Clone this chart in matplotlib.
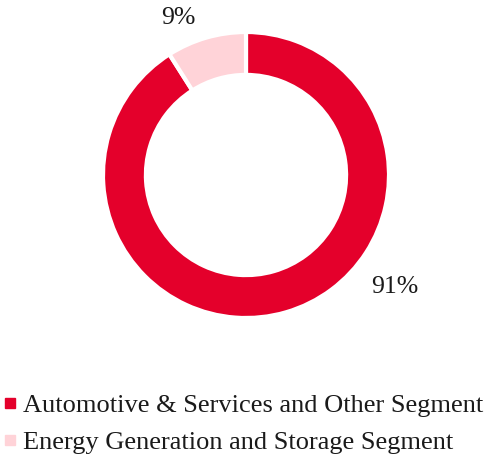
import matplotlib
matplotlib.use("Agg")
import matplotlib.pyplot as plt
from matplotlib.lines import Line2D

categories = ["Automotive & Services and Other Segment", "Energy Generation and Storage Segment"]
values = [91, 9]
colors = ["#E4002B", "#FFD3D8"]
label_pos = [(1.04, -0.78), (-0.475, 1.10)]

plt.rcParams['font.family'] = ['Liberation Serif', 'DejaVu Serif']

W, H = 486, 459
fig = plt.figure(figsize=(W/100, H/100), dpi=100)
cx, cy, r = 246, 175, 143
ax = fig.add_axes([(cx - r)/W, (H - cy - r)/H, 2*r/W, 2*r/H])
wedges, texts, autotexts = ax.pie(values, colors=colors, startangle=90, counterclock=False,
                                  radius=1, autopct='%d%%',
                                  wedgeprops=dict(width=0.3, edgecolor='white', linewidth=3),
                                  textprops=dict(fontsize=18.5, color='#1a1a1a'))
for t, p in zip(autotexts, label_pos):
    t.set_position(p)
ax.set_xlim(-1, 1)
ax.set_ylim(-1, 1)
ax.set_aspect('equal')
ax.axis('off')

handles = [Line2D([0], [0], marker='s', linestyle='none', markersize=6.5,
                  markerfacecolor=c, markeredgecolor=c) for c in colors]
leg = fig.legend(handles, categories, loc='upper left', bbox_to_anchor=(0.006, 0.142),
                 frameon=False, fontsize=19, handlelength=0.5, handletextpad=0.25,
                 labelspacing=0.52, borderaxespad=0, borderpad=0, labelcolor='#1a1a1a')
fig.savefig("out.png", dpi=100)
